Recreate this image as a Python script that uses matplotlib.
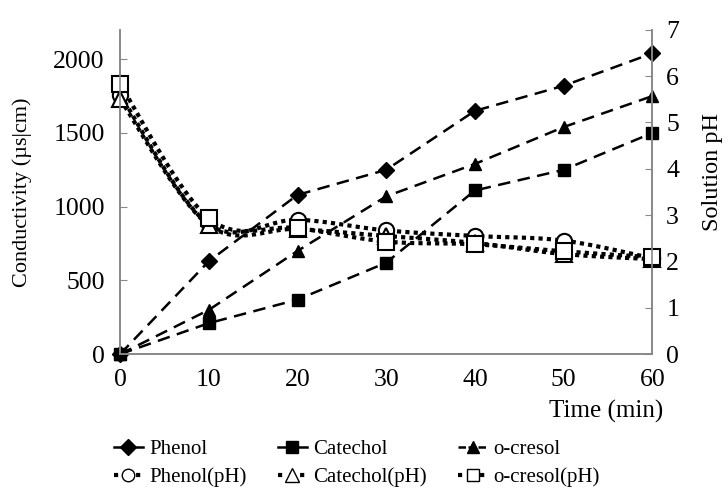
import numpy as np
import matplotlib.pyplot as plt
from matplotlib.lines import Line2D

plt.rcParams['font.family'] = ['Liberation Serif', 'DejaVu Serif']

time = [0, 10, 20, 30, 40, 50, 60]

# conductivity (us/cm)
phenol = [0, 630, 1080, 1250, 1650, 1820, 2040]
catechol = [0, 210, 370, 620, 1110, 1250, 1500]
cresol = [0, 300, 700, 1070, 1290, 1540, 1750]

# solution pH
phenol_ph = [5.6, 2.8, 2.9, 2.67, 2.55, 2.45, 2.07]
catechol_ph = [5.5, 2.78, 2.7, 2.55, 2.4, 2.16, 2.05]
cresol_ph = [5.82, 2.93, 2.72, 2.43, 2.37, 2.22, 2.09]

labels = ['Phenol', 'Phenol(pH)', 'Catechol', 'Catechol(pH)', 'o-cresol', 'o-cresol(pH)']


def smooth(x, y, n=20):
    # bezier curve through the points, like Excel's smoothed lines
    x = np.asarray(x, float)
    y = np.asarray(y, float)
    px = np.concatenate([[x[0]], x, [x[-1]]])
    py = np.concatenate([[y[0]], y, [y[-1]]])
    xs, ys = [], []
    t = np.linspace(0, 1, n)
    for i in range(1, len(px) - 2):
        p0, p1, p2, p3 = (np.array([px[j], py[j]]) for j in range(i - 1, i + 3))
        b1 = p1 + (p2 - p0) / 6
        b2 = p2 - (p3 - p1) / 6
        pts = (np.outer((1 - t) ** 3, p1) + np.outer(3 * (1 - t) ** 2 * t, b1)
               + np.outer(3 * (1 - t) * t ** 2, b2) + np.outer(t ** 3, p2))
        xs.extend(pts[:, 0])
        ys.extend(pts[:, 1])
    return xs, ys


fig = plt.figure(figsize=(7.28, 4.96), dpi=100)
ax = fig.add_axes([0.165, 0.286, 0.731, 0.654])
ax2 = ax.twinx()

dash = dict(color='black', linestyle=(0, (5, 3)), linewidth=1.8, clip_on=False)
ax.plot(time, phenol, marker='D', markersize=8, **dash)
ax.plot(time, catechol, marker='s', markersize=9, **dash)
ax.plot(time, cresol, marker='^', markersize=9, **dash)

for vals in [phenol_ph, catechol_ph, cresol_ph]:
    sx, sy = smooth(time, vals)
    ax2.plot(sx, sy, color='black', linestyle=(0, (1, 1)), linewidth=3, clip_on=False)
mk = dict(color='black', markerfacecolor='white', markeredgewidth=1.5, linestyle='none',
          markersize=11, clip_on=False)
ax2.plot(time, phenol_ph, marker='o', **mk)
ax2.plot(time, catechol_ph, marker='^', **mk)
ax2.plot(time, cresol_ph, marker='s', **mk)

ax.set_xlim(0, 60)
ax.set_ylim(0, 2200)
ax2.set_ylim(0, 7)
ax.set_xticks(time)
ax.set_yticks([0, 500, 1000, 1500, 2000])
ax2.set_yticks(range(8))

for a in (ax, ax2):
    a.spines['top'].set_visible(False)
    for s in ('left', 'right', 'bottom'):
        a.spines[s].set_color('#888888')
        a.spines[s].set_linewidth(1.2)
    a.tick_params(labelsize=18.5, direction='in', color='#888888', length=5)
ax.tick_params(axis='x', length=0, pad=11)
ax.tick_params(axis='y', pad=11)
ax2.tick_params(axis='y', pad=10)

ax.set_ylabel('Conductivity (µs|cm)', fontsize=16)
ax.yaxis.set_label_coords(-0.165, 0.5)
ax2.set_ylabel('Solution pH', fontsize=17.5)
ax2.yaxis.set_label_coords(1.094, 0.56)
ax.set_xlabel('Time (min)', fontsize=18, ha='right')
ax.xaxis.set_label_coords(1.021, -0.142)

h = [
    Line2D([], [], color='black', linewidth=1.8, marker='D', markersize=8),
    Line2D([], [], color='black', linestyle=':', linewidth=3, marker='o',
           markerfacecolor='white', markersize=9),
    Line2D([], [], color='black', linewidth=1.8, marker='s', markersize=9),
    Line2D([], [], color='black', linestyle=':', linewidth=3, marker='^',
           markerfacecolor='white', markersize=10),
    Line2D([], [], color='black', linestyle=(0, (3, 1)), linewidth=1.8, marker='^', markersize=9),
    Line2D([], [], color='black', linestyle=':', linewidth=3, marker='s',
           markerfacecolor='white', markersize=9),
]
fig.legend(h, labels, loc='lower center', bbox_to_anchor=(0.49, -0.02), ncol=3, frameon=False,
           fontsize=15, handlelength=1.4, handletextpad=0.3, columnspacing=1.5, labelspacing=0.4)

fig.savefig('out.png', dpi=100)
